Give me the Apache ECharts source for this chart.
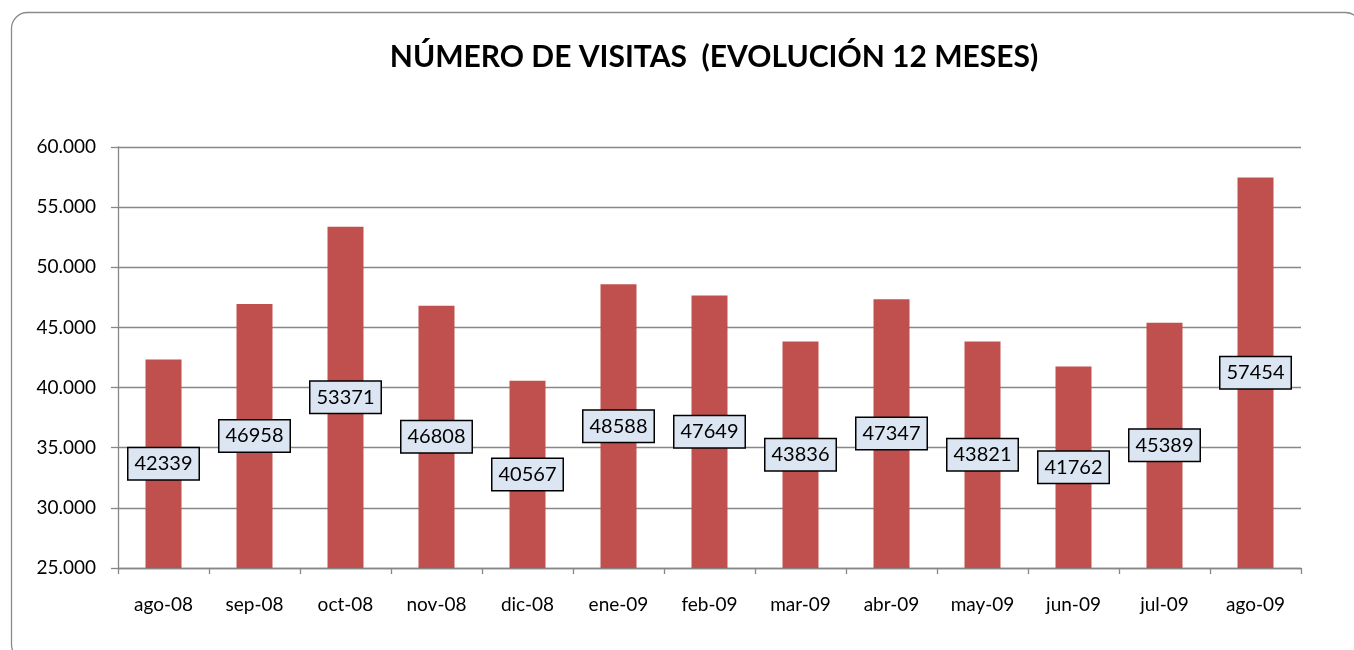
<!DOCTYPE html>
<html>
<head>
<meta charset="utf-8">
<script src="https://cdn.jsdelivr.net/npm/echarts@6/dist/echarts.min.js"></script>
<style>
html,body{margin:0;padding:0;background:#fff;}
#c{width:1354px;height:650px;}
</style>
</head>
<body>
<div id="c"></div>
<script>
const titleText = 'NÚMERO DE VISITAS  (EVOLUCIÓN 12 MESES)';
const categories = ['ago-08','sep-08','oct-08','nov-08','dic-08','ene-09','feb-09','mar-09','abr-09','may-09','jun-09','jul-09','ago-09'];
const visitas = [42339,46958,53371,46808,40567,48588,47649,43836,47347,43821,41762,45389,57454];
const yMin = 25000, yMax = 60000, yStep = 5000;

const FONT = 'Lato';
const chart = echarts.init(document.getElementById('c'), null, {renderer:'canvas'});
chart.setOption({
  animation:false,
  backgroundColor:'#fff',
  graphic:[{
    type:'rect', left:9, top:10, silent:true,
    shape:{width:1350, height:648, r:16},
    style:{fill:'none', stroke:'#8a8a8a', lineWidth:1.3}
  },{
    type:'text', x:714, y:57, silent:true,
    style:{text:titleText, fontFamily:FONT, fontWeight:'bold', fontSize:30, fill:'#000',
      textAlign:'center', textVerticalAlign:'middle'}
  }],
  grid:{left:118, right:53, top:147, bottom:82, containLabel:false},
  xAxis:{
    type:'category', data:categories,
    axisLine:{lineStyle:{color:'#878787', width:1.3}},
    axisTick:{show:true, length:6, alignWithLabel:false, lineStyle:{color:'#878787', width:1.3}},
    axisLabel:{fontFamily:FONT, fontSize:19, color:'#000', margin:27}
  },
  yAxis:{
    type:'value', min:yMin, max:yMax, interval:yStep,
    axisLine:{show:true, lineStyle:{color:'#878787', width:1.3}},
    axisTick:{show:true, length:7, lineStyle:{color:'#878787', width:1.3}},
    splitLine:{lineStyle:{color:'#878787', width:1.3}},
    axisLabel:{fontFamily:FONT, fontSize:19, color:'#000', margin:22,
      formatter:v=>String(v).replace(/\B(?=(\d{3})+(?!\d))/g,'.')}
  },
  series:[{
    type:'bar', data:visitas, barWidth:36,
    itemStyle:{color:'#C0504D'},
    label:{
      show:true, position:'inside', fontFamily:FONT, fontSize:20, color:'#000',
      backgroundColor:'#DCE6F2', borderColor:'#000', borderWidth:1.5,
      padding:[6,6,5,6]
    }
  }]
});
</script>
</body>
</html>
